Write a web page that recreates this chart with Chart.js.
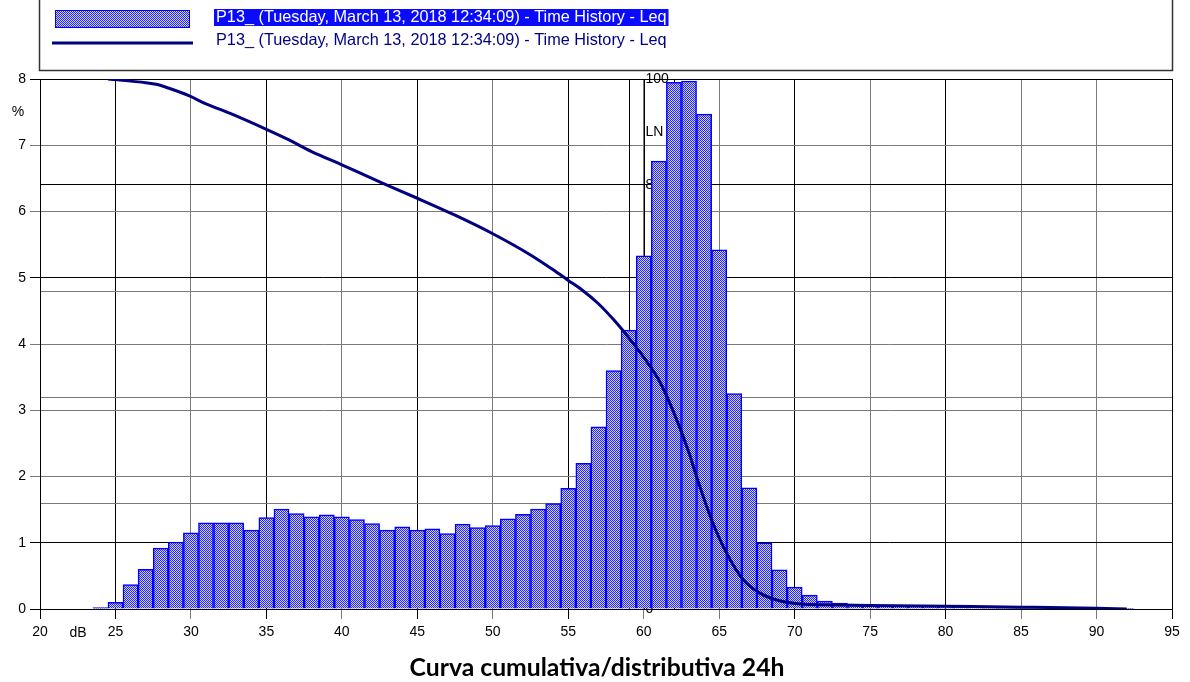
<!DOCTYPE html>
<html><head><meta charset="utf-8">
<script src="https://cdn.jsdelivr.net/npm/chart.js@4.4.1/dist/chart.umd.min.js"></script>
<style>html,body{margin:0;padding:0;background:#fff}#wrap{width:1190px;height:682px;position:relative}</style>
</head><body><div id="wrap"><canvas id="c" width="1190" height="682"></canvas></div>
<script>
// ---- data ----
const levels = [24,25,26,27,28,29,30,31,32,33,34,35,36,37,38,39,40,41,42,43,44,45,46,47,48,49,50,51,52,53,54,55,56,57,58,59,60,61,62,63,64,65,66,67,68,69,70,71,72,73,74,75,76,77,78,79,80,81,82,83,84,85,86,87,88,89,90,91,92];
const percent = [0.02,0.10,0.37,0.60,0.92,1.01,1.15,1.30,1.30,1.30,1.19,1.38,1.51,1.44,1.39,1.42,1.39,1.35,1.29,1.19,1.24,1.19,1.21,1.14,1.28,1.23,1.26,1.36,1.43,1.51,1.59,1.82,2.20,2.75,3.60,4.21,5.33,6.76,7.95,7.97,7.47,5.42,3.25,1.83,1.00,0.59,0.33,0.21,0.12,0.09,0.07,0.06,0.05,0.05,0.04,0.04,0.04,0.03,0.03,0.03,0.03,0.02,0.02,0.02,0.02,0.01,0.01,0.01,0.01];
const curveLevels = [24.5,25,26,27,27.7,28.5,29.9,31,32.6,35,36.5,38,40,42.5,45,47.5,50,52.5,54,55,56,57,58,59,60,61,62,63,63.5,64.5,65.5,66.6,67.7,68.8,70.4,72,75,80,85,90,92];
const curveLN = [100,99.9,99.6,99.3,99.0,98.3,96.8,95.3,93.5,90.5,88.5,86.3,83.8,80.6,77.5,74.3,70.8,66.8,64.0,62.0,60.0,57.6,54.6,51.2,47.5,43.2,37.0,29.5,25.0,16.8,10.5,5.5,3.0,1.7,0.94,0.8,0.65,0.5,0.35,0.15,0.0];
const xBlackTicks = [20,25,35,45,55,70,80,95];
const extraXLines = [59,62];
const yBlackTicks = [0,1,5,8];
const lnTicks = [0,20,40,60,80,100];
const lnBlackTicks = [0,80,100];
const seriesLabel = 'P13_ (Tuesday, March 13, 2018 12:34:09) - Time History - Leq';
const titleText = 'Curva cumulativa/distributiva 24h';

const FONT = '"Liberation Sans", Arial, sans-serif';
const GRAY = '#7a7a7a';
const canvas = document.getElementById('c');
const mainCtx = canvas.getContext('2d');

function makePattern(){
  const c = document.createElement('canvas'); c.width = 2; c.height = 2;
  const g = c.getContext('2d');
  g.fillStyle = '#d0d0ff'; g.fillRect(0,0,2,2);
  g.fillStyle = '#2424ff'; g.fillRect(0,0,1,1); g.fillRect(1,1,1,1);
  return mainCtx.createPattern(c, 'repeat');
}
const hatch = makePattern();

const decor = {
  id: 'decor',
  beforeDatasetsDraw(chart){
    const {ctx, chartArea: a, scales} = chart;
    ctx.save();
    ctx.strokeStyle = '#000'; ctx.lineWidth = 1;
    extraXLines.forEach(v => {
      const p = Math.round(scales.x.getPixelForValue(v)) + 0.5;
      ctx.beginPath(); ctx.moveTo(p, a.top); ctx.lineTo(p, a.bottom); ctx.stroke();
    });
    const xp = Math.round(scales.x.getPixelForValue(60)) + 0.5;
    ctx.beginPath(); ctx.moveTo(xp, a.top); ctx.lineTo(xp, a.bottom); ctx.stroke();
    ctx.font = '14px ' + FONT; ctx.fillStyle = '#000';
    ctx.textAlign = 'left'; ctx.textBaseline = 'middle';
    lnTicks.forEach(v => ctx.fillText(String(v), xp + 1, scales.y2.getPixelForValue(v)));
    ctx.fillText('LN', xp + 1, scales.y2.getPixelForValue(90));
    ctx.restore();
  },
  afterDraw(chart){
    const {ctx, chartArea: a} = chart;
    ctx.save();
    // legend box
    ctx.strokeStyle = '#333'; ctx.lineWidth = 1.5;
    ctx.strokeRect(a.left - 0.5, -1, a.right - a.left + 1, 71.5);
    ctx.fillStyle = hatch; ctx.fillRect(55, 10, 135, 18);
    ctx.strokeStyle = '#0000ff'; ctx.lineWidth = 1; ctx.strokeRect(55.5, 10.5, 134, 17);
    ctx.strokeStyle = '#000080'; ctx.lineWidth = 3;
    ctx.beginPath(); ctx.moveTo(52, 43); ctx.lineTo(193, 43); ctx.stroke();
    let fs = 15; ctx.font = fs + 'px ' + FONT;
    fs = fs * 451 / ctx.measureText(seriesLabel).width;
    ctx.font = fs.toFixed(2) + 'px ' + FONT;
    const w = ctx.measureText(seriesLabel).width;
    ctx.fillStyle = '#0a0aff'; ctx.fillRect(214, 9, w + 4, 17);
    ctx.textAlign = 'left'; ctx.textBaseline = 'middle';
    ctx.fillStyle = '#ffffff'; ctx.fillText(seriesLabel, 216, 18);
    ctx.fillStyle = '#000080'; ctx.fillText(seriesLabel, 216, 41);
    // axis unit labels
    ctx.fillStyle = '#000'; ctx.font = '14px ' + FONT; ctx.textAlign = 'center';
    ctx.fillText('%', 18, 112);
    ctx.fillText('dB', 78, 633);
    // title
    let tf = 20; ctx.font = 'bold ' + tf + 'px Lato, "Open Sans", sans-serif';
    tf = tf * 375 / ctx.measureText(titleText).width;
    ctx.font = 'bold ' + tf.toFixed(2) + 'px Lato, "Open Sans", sans-serif';
    ctx.fillText(titleText, 597, 668);
    ctx.restore();
  }
};

new Chart(canvas, {
  type: 'bar',
  data: {
    datasets: [
      {
        type: 'line', label: seriesLabel, order: 0,
        data: curveLevels.map((x, i) => ({x, y: curveLN[i]})),
        xAxisID: 'x', yAxisID: 'y2',
        borderColor: '#000080', borderWidth: 3, pointRadius: 0,
        cubicInterpolationMode: 'monotone', fill: false
      },
      {
        type: 'bar', label: seriesLabel, order: 1,
        data: levels.map((x, i) => ({x, y: percent[i]})),
        xAxisID: 'x', yAxisID: 'y',
        backgroundColor: hatch, borderColor: '#0000ff', borderWidth: 1.5,
        barPercentage: 1, categoryPercentage: 1
      }
    ]
  },
  options: {
    responsive: false, animation: false,
    layout: {padding: {left: 0, right: 18, top: 79, bottom: 33}},
    plugins: {legend: {display: false}, title: {display: false}, tooltip: {enabled: false}},
    scales: {
      x: {
        type: 'linear', min: 20, max: 95, offset: false, position: 'bottom',
        ticks: {stepSize: 5, color: '#000', font: {family: FONT, size: 14}, padding: 5, maxRotation: 0, autoSkip: false},
        grid: {offset: false, tickLength: 10, lineWidth: 1,
          color: c => xBlackTicks.includes(c.tick && c.tick.value) ? '#000' : GRAY},
        border: {display: true, color: '#000', width: 1},
        afterFit: s => { s.height = 40; }
      },
      y: {
        type: 'linear', min: 0, max: 8, position: 'left',
        ticks: {stepSize: 1, color: '#000', font: {family: FONT, size: 14}, padding: 4},
        grid: {tickLength: 10, lineWidth: 1,
          color: c => yBlackTicks.includes(c.tick && c.tick.value) ? '#000' : GRAY},
        border: {display: true, color: '#000', width: 1},
        afterFit: s => { s.width = 40; }
      },
      y2: {
        type: 'linear', min: 0, max: 100, position: 'right',
        ticks: {stepSize: 20, display: false},
        grid: {drawTicks: false, lineWidth: 1,
          color: c => lnBlackTicks.includes(c.tick && c.tick.value) ? '#000' : GRAY},
        border: {display: false},
        afterFit: s => { s.width = 0; }
      }
    }
  },
  plugins: [decor]
});
</script></body></html>
